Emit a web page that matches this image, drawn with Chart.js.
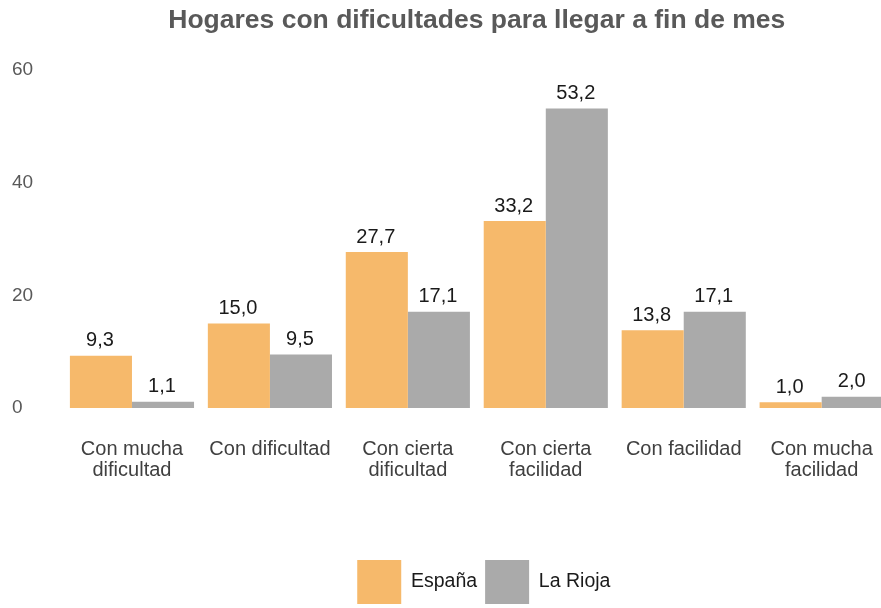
<!DOCTYPE html>
<html>
<head>
<meta charset="utf-8">
<script src="https://cdn.jsdelivr.net/npm/chart.js@4/dist/chart.umd.min.js"></script>
<style>
  html, body { margin: 0; padding: 0; background: #fff; overflow: hidden; }
  #wrap { width: 881px; height: 608px; overflow: hidden; }
</style>
</head>
<body>
<div id="wrap"><canvas id="barChart" width="905" height="614"></canvas></div>
<script>
// data
const categories = [
  ['Con mucha', 'dificultad'],
  'Con dificultad',
  ['Con cierta', 'dificultad'],
  ['Con cierta', 'facilidad'],
  'Con facilidad',
  ['Con mucha', 'facilidad']
];
const espana = [9.3, 15.0, 27.7, 33.2, 13.8, 1.0];
const laRioja = [1.1, 9.5, 17.1, 53.2, 17.1, 2.0];
const yTicks = [0, 20, 40, 60];

const FONT = "'Liberation Sans', Arial, sans-serif";

// <!-- value labels above each bar -->
const barLabels = {
  id: 'barLabels',
  afterDatasetsDraw(chart) {
    const ctx = chart.ctx;
    ctx.save();
    ctx.font = '20px ' + FONT;
    ctx.fillStyle = '#1a1a1a';
    ctx.textAlign = 'center';
    ctx.textBaseline = 'middle';
    chart.data.datasets.forEach((ds, i) => {
      chart.getDatasetMeta(i).data.forEach((bar, j) => {
        const txt = ds.data[j].toFixed(1).replace('.', ',');
        ctx.fillText(txt, bar.x - 1, bar.y - 15);
      });
    });
    ctx.restore();
  }
};

// nudge the legend a bit to the right, like the original
const legendNudge = {
  id: 'legendNudge',
  afterLayout(chart) {
    chart.legend.left += 7;
    chart.legend.right += 7;
  }
};

new Chart(document.getElementById('barChart'), {
  type: 'bar',
  data: {
    labels: categories,
    datasets: [
      { label: 'España', data: espana, backgroundColor: '#f6b96b',
        barPercentage: 1, categoryPercentage: 0.9 },
      { label: 'La Rioja', data: laRioja, backgroundColor: '#aaaaaa',
        barPercentage: 1, categoryPercentage: 0.9 }
    ]
  },
  options: {
    responsive: false,
    animation: false,
    layout: { padding: { left: 12, right: 9, top: 0, bottom: 0 } },
    scales: {
      x: {
        grid: { display: false, drawTicks: false },
        border: { display: false },
        ticks: { color: '#404040', padding: 31, font: { family: FONT, size: 20, lineHeight: 1.05 } },
        afterFit: s => { s.height = 144; }
      },
      y: {
        min: 0, max: 60,
        grid: { display: false, drawTicks: false },
        border: { display: false },
        afterBuildTicks: s => { s.ticks = yTicks.map(v => ({ value: v })); },
        ticks: { color: '#595959', crossAlign: 'far', font: { family: FONT, size: 19 } },
        afterFit: s => { s.width = 51; }
      }
    },
    plugins: {
      title: {
        display: true,
        fullSize: false,
        text: 'Hogares con dificultades para llegar a fin de mes',
        color: '#595959',
        font: { family: FONT, size: 26.5, weight: 'bold' },
        padding: { top: 5, bottom: 33.4 }
      },
      legend: {
        position: 'bottom',
        fullSize: false,
        labels: {
          boxWidth: 44, boxHeight: 44, padding: 8,
          color: '#1a1a1a',
          font: { family: FONT, size: 19.5 }
        }
      },
      tooltip: { enabled: false }
    }
  },
  plugins: [barLabels, legendNudge]
});
</script>
</body>
</html>
